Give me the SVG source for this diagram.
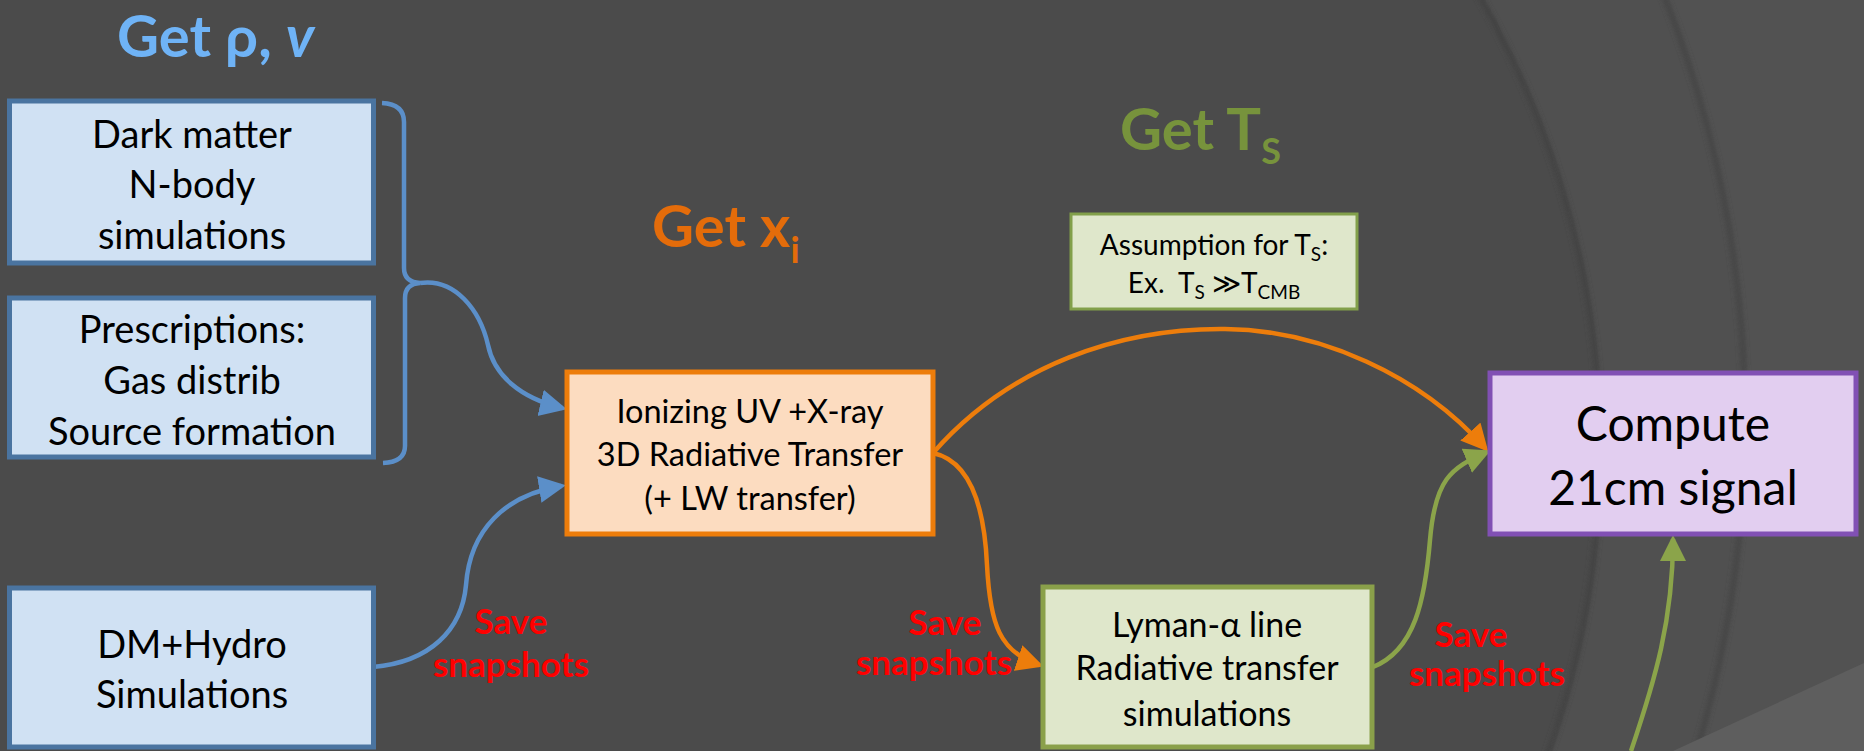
<svg xmlns="http://www.w3.org/2000/svg" width="1864" height="751" viewBox="0 0 1864 751">
<style>
.box{stroke-width:5}
.bt{font-family:Lato,"Liberation Sans",sans-serif;fill:#000;text-anchor:middle}
.t38{font-size:38px}
.t32{font-size:32.5px}
.t34{font-size:34px}
.t46{font-size:48px}
.t27{font-size:28px}
.title{font-family:Lato,"Liberation Sans",sans-serif;font-weight:bold;font-size:58px}
.save{font-family:Lato,"Liberation Sans",sans-serif;font-weight:bold;font-size:35px;fill:#ff0000;text-anchor:middle}
.con{fill:none;stroke-width:4.5}
</style>
<defs>
<filter id="sh" x="-5%" y="-5%" width="110%" height="110%"><feGaussianBlur stdDeviation="2.5"/></filter>
<marker id="ab" markerUnits="userSpaceOnUse" markerWidth="30" markerHeight="30" refX="22" refY="13.5" orient="auto"><path d="M0,0 L27,13.5 L0,27 z" fill="#5b8fc9"/></marker>
<marker id="ao" markerUnits="userSpaceOnUse" markerWidth="30" markerHeight="30" refX="22" refY="13.5" orient="auto"><path d="M0,0 L27,13.5 L0,27 z" fill="#ed7d0b"/></marker>
<marker id="ag" markerUnits="userSpaceOnUse" markerWidth="30" markerHeight="30" refX="22" refY="13" orient="auto"><path d="M0,0 L26,13 L0,26 z" fill="#8ba44a"/></marker>
</defs>
<g id="background">
<rect width="1864" height="751" fill="#525252"/>
<circle cx="592" cy="420" r="1156" fill="#505050"/>
<circle cx="592" cy="420" r="1153" fill="none" stroke="#454545" stroke-width="5" filter="url(#sh)"/>
<circle cx="686" cy="450" r="917" fill="#4b4b4b"/>
<circle cx="686" cy="450" r="914" fill="none" stroke="#434343" stroke-width="5" filter="url(#sh)"/>
<polygon points="1673,751 1864,663 1864,751" fill="#5e5e5e"/>
</g>
<g id="titles">
<text class="title" x="117" y="57" font-size="57" fill="#6fb3f6">Get ρ, <tspan font-style="italic">v</tspan></text>
<text class="title" x="652" y="247" fill="#e46c0a">Get x<tspan font-size="36" dy="16">i</tspan></text>
<text class="title" x="1120" y="150" fill="#77933c">Get T<tspan font-size="36" dy="14">S</tspan></text>
</g>
<g id="connectors">
<path class="con" stroke="#5b8fc9" d="M 382 103 Q 404 104, 404 122 L 404 268 Q 404 282, 420 283 Q 405 284, 405 298 L 405 446 Q 405 462, 383 463"/>
<path class="con" stroke="#5b8fc9" marker-end="url(#ab)" d="M 420 283 C 455 278, 480 310, 488 345 C 494 375, 520 398, 562 408"/>
<path class="con" stroke="#5b8fc9" marker-end="url(#ab)" d="M 373 667 C 430 662, 462 630, 466 585 C 470 530, 505 495, 561 486"/>
<path class="con" stroke="#ed7d0b" marker-end="url(#ao)" d="M 933 453 C 1010 365, 1120 328, 1225 329 C 1320 330, 1420 375, 1485 448"/>
<path class="con" stroke="#ed7d0b" marker-end="url(#ao)" d="M 933 453 C 975 462, 985 520, 987 565 C 990 625, 1000 652, 1039 665"/>
<path class="con" stroke="#8ba44a" marker-end="url(#ag)" d="M 1373 667 C 1415 650, 1425 600, 1430 540 C 1435 480, 1450 468, 1487 452"/>
<path class="con" stroke="#8ba44a" marker-end="url(#ag)" d="M 1631 751 C 1655 680, 1673 620, 1673 539"/>
</g>
<g id="dark-matter">
<rect class="box" x="9.5" y="101" width="364" height="162" fill="#d0e1f3" stroke="#4a74a0"/>
<text class="bt t38" x="192" y="148">Dark matter</text>
<text class="bt t38" x="192" y="198">N-body</text>
<text class="bt t38" x="192" y="249">simulations</text>
</g>
<g id="prescriptions">
<rect class="box" x="9.5" y="298" width="364" height="159" fill="#d0e1f3" stroke="#4a74a0"/>
<text class="bt t38" x="192" y="343">Prescriptions:</text>
<text class="bt t38" x="192" y="394">Gas distrib</text>
<text class="bt t38" x="192" y="445">Source formation</text>
</g>
<g id="dm-hydro">
<rect class="box" x="9.5" y="588" width="364" height="159" fill="#d0e1f3" stroke="#4a74a0"/>
<text class="bt t38" x="192" y="658">DM+Hydro</text>
<text class="bt t38" x="192" y="708">Simulations</text>
</g>
<g id="ionizing">
<rect class="box" x="567" y="372" width="366" height="162" fill="#fcdcc0" stroke="#ed7d0b"/>
<text class="bt t32" x="750" y="423">Ionizing UV +X-ray</text>
<text class="bt t32" x="750" y="466">3D Radiative Transfer</text>
<text class="bt t32" x="750" y="510">(+ LW transfer)</text>
</g>
<g id="assumption">
<rect x="1071" y="214" width="286" height="95" fill="#dfe7cb" stroke="#82a04a" stroke-width="3"/>
<text class="bt t27" x="1214" y="255">Assumption for T<tspan font-size="19" dy="6">S</tspan><tspan dy="-6">:</tspan></text>
<text class="bt t27" x="1214" y="293">Ex.&#160; T<tspan font-size="19" dy="6">S</tspan><tspan dy="-6"> ≫T</tspan><tspan font-size="19" dy="6">CMB</tspan></text>
</g>
<g id="lyman">
<rect class="box" x="1043" y="587" width="329" height="160" fill="#dfe7cb" stroke="#8aa04a"/>
<text class="bt t34" x="1207" y="637">Lyman-α line</text>
<text class="bt t34" x="1207" y="680">Radiative transfer</text>
<text class="bt t34" x="1207" y="726">simulations</text>
</g>
<g id="compute">
<rect class="box" x="1490" y="373" width="366" height="161" fill="#e2cef0" stroke="#8150b4"/>
<text class="bt t46" x="1673" y="441">Compute</text>
<text class="bt t46" x="1673" y="505">21cm signal</text>
</g>
<g id="labels">
<text class="save" x="511" y="634">Save</text>
<text class="save" x="511" y="677">snapshots</text>
<text class="save" x="945" y="635">Save</text>
<text class="save" x="934" y="675">snapshots</text>
<text class="save" x="1471" y="647">Save</text>
<text class="save" x="1487" y="686">snapshots</text>
</g>
</svg>
